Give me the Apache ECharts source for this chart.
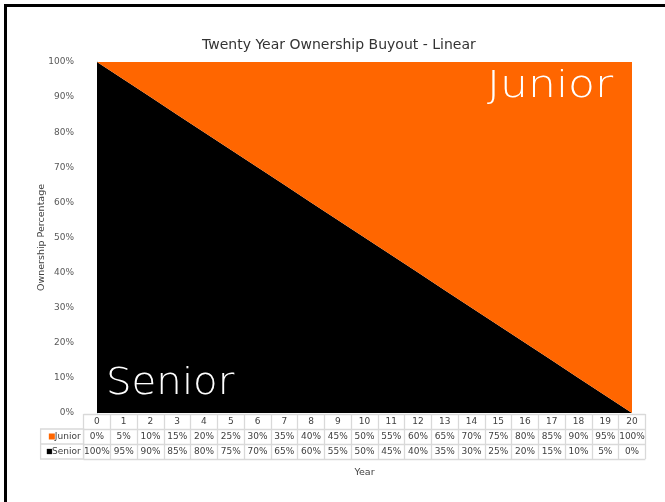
<!DOCTYPE html>
<html>
<head>
<meta charset="utf-8">
<script src="https://cdn.jsdelivr.net/npm/echarts@6/dist/echarts.min.js"></script>
<style>html,body{margin:0;padding:0;background:#fff}#c{width:665px;height:502px}</style>
</head>
<body>
<div id="c"></div>
<script>
const years = ['0','1','2','3','4','5','6','7','8','9','10','11','12','13','14','15','16','17','18','19','20'];
const junior = [0,5,10,15,20,25,30,35,40,45,50,55,60,65,70,75,80,85,90,95,100];
const senior = [100,95,90,85,80,75,70,65,60,55,50,45,40,35,30,25,20,15,10,5,0];
const rowNames = ['Year','Junior','Senior'];
const seriesColors = {Junior:'#FF6600', Senior:'#000000'};

const FONT = 'DejaVu Sans';
const chart = echarts.init(document.getElementById('c'));

const tableData = [];
years.forEach((y,i)=>{
  tableData.push([i,0,y]);
  tableData.push([i,1,junior[i]+'%']);
  tableData.push([i,2,senior[i]+'%']);
});

chart.setOption({
  animation:false,
  backgroundColor:'#fff',
  title:{text:'Twenty Year Ownership Buyout - Linear',left:197,top:33,
    textStyle:{fontFamily:FONT,fontSize:14,fontWeight:'normal',color:'#333'}},
  grid:[
    {left:97,right:33,top:62,bottom:89},
    {left:83.6,right:19.6,top:414,height:45}
  ],
  xAxis:[
    {type:'category',gridIndex:0,data:years,boundaryGap:false,
     axisLine:{show:false},axisTick:{show:false},axisLabel:{show:false},splitLine:{show:false}},
    {type:'category',gridIndex:1,data:years,boundaryGap:true,
     axisLine:{show:false},axisTick:{show:false},axisLabel:{show:false},
     splitLine:{show:true,lineStyle:{color:'#d9d9d9',width:1.3}},
     name:'Year',nameLocation:'middle',nameGap:9,nameMoveOverlap:false,
     nameTextStyle:{fontFamily:FONT,fontSize:9.5,color:'#404040'}}
  ],
  yAxis:[
    {type:'value',gridIndex:0,min:0,max:100,interval:10,
     axisLine:{show:true,lineStyle:{color:'#9cc3cf',width:1}},axisTick:{show:false},
     splitLine:{show:false},
     axisLabel:{formatter:'{value}%',margin:23,fontFamily:FONT,fontSize:9,color:'#595959'},
     name:'Ownership Percentage',nameLocation:'middle',nameGap:50,nameMoveOverlap:false,
     nameTextStyle:{fontFamily:FONT,fontSize:9.5,color:'#404040'}},
    {type:'category',gridIndex:1,data:rowNames,inverse:true,boundaryGap:true,
     axisLine:{show:false},axisTick:{show:false},
     splitLine:{show:true,lineStyle:{color:'#d9d9d9',width:1.3}},
     axisLabel:{margin:3,fontFamily:FONT,fontSize:9,color:'#404040',
       formatter:function(v){
         if(v==='Junior') return '{j|}'+v;
         if(v==='Senior') return '{s|}'+v;
         return '';
       },
       rich:{
         j:{backgroundColor:'#FF6600',width:6,height:6,padding:0},
         s:{backgroundColor:'#000',width:5,height:5,borderColor:'#bbb',borderWidth:0.5}
       }}}
  ],
  series:[
    {name:'Senior',type:'line',xAxisIndex:0,yAxisIndex:0,stack:'own',data:senior,
     showSymbol:false,symbol:'none',lineStyle:{width:0},
     itemStyle:{color:seriesColors.Senior},areaStyle:{color:seriesColors.Senior,opacity:1}},
    {name:'Junior',type:'line',xAxisIndex:0,yAxisIndex:0,stack:'own',data:junior,
     showSymbol:false,symbol:'none',lineStyle:{width:0},
     itemStyle:{color:seriesColors.Junior},areaStyle:{color:seriesColors.Junior,opacity:1}},
    {type:'custom',xAxisIndex:1,yAxisIndex:1,data:tableData,
     renderItem:function(params,api){
       const p = api.coord([api.value(0),api.value(1)]);
       return {type:'text',x:p[0],y:p[1]+0.5,
         style:{text:tableData[params.dataIndex][2],align:'center',verticalAlign:'middle',
           font:'9px "'+FONT+'"',fill:'#404040'}};
     }}
  ],
  graphic:[
    {type:'rect',shape:{x:4,y:4,width:661,height:3},style:{fill:'#000'},silent:true},
    {type:'rect',shape:{x:4,y:4,width:3,height:498},style:{fill:'#000'},silent:true},
    {type:'rect',shape:{x:40.6,y:429,width:43,height:30},style:{fill:'none',stroke:'#d9d9d9',lineWidth:1.3},silent:true},
    {type:'line',shape:{x1:40.6,y1:444,x2:83.6,y2:444},style:{stroke:'#d9d9d9',lineWidth:1.3},silent:true},
    {type:'text',x:487,y:68,scaleX:1.16,style:{text:'Junior',font:'200 38px "DejaVu Sans"',fill:'#fff'},z:10},
    {type:'text',x:106,y:365,scaleX:1.06,style:{text:'Senior',font:'200 38px "DejaVu Sans"',fill:'#fff'},z:10}
  ]
});
</script>
</body>
</html>
